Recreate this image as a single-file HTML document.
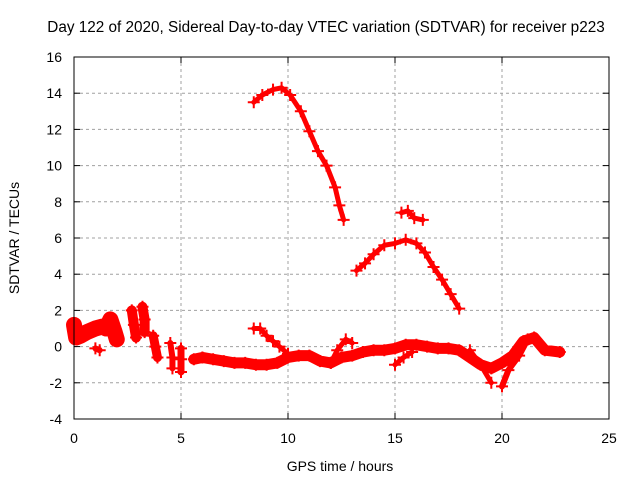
<!DOCTYPE html>
<html><head><meta charset="utf-8"><style>
body{margin:0;background:#fff;width:640px;height:480px;overflow:hidden}
svg text{font-family:"Liberation Sans",sans-serif;font-size:14px;fill:#000}
</style></head><body>
<svg id="chart" width="640" height="480" xmlns="http://www.w3.org/2000/svg">
<rect width="640" height="480" fill="#fff"/>
<text x="326" y="32" text-anchor="middle" style="font-size:15.3px">Day 122 of 2020, Sidereal Day-to-day VTEC variation (SDTVAR) for receiver p223</text>
<text x="340" y="471" text-anchor="middle">GPS time / hours</text>
<text transform="translate(19,238) rotate(-90)" text-anchor="middle">SDTVAR / TECUs</text>
<g id="grid"></g><g id="marks"></g><g id="axes"></g>
</svg>
<script>
const xTicks=[0,5,10,15,20,25];
const yTicks=[-4,-2,0,2,4,6,8,10,12,14,16];
const traceArc1=[[8.4,13.5],[8.8,13.9],[9.3,14.2],[9.7,14.3],[10.1,13.9],[10.6,13.0],[11.0,11.9],[11.4,10.8],[11.8,10.0],[12.2,8.8],[12.4,7.8],[12.6,7.0]];
const traceArc2=[[13.2,4.2],[13.6,4.6],[14.0,5.1],[14.5,5.6],[15.0,5.7],[15.5,5.9],[16.0,5.7],[16.4,5.2],[16.8,4.4],[17.2,3.7],[17.6,2.9],[18.0,2.1]];
const traceShort=[[15.3,7.4],[15.6,7.5],[15.9,7.1],[16.3,7.0]];
const traceMain=[[5.6,-0.7],[6.0,-0.6],[6.5,-0.7],[7.0,-0.8],[7.5,-0.9],[8.0,-0.9],[8.5,-1.0],[9.0,-1.0],[9.5,-0.9],[10.0,-0.6],[10.5,-0.5],[11.0,-0.5],[11.5,-0.8],[12.0,-0.9],[12.5,-0.6],[13.0,-0.5],[13.5,-0.3],[14.0,-0.2],[14.5,-0.2],[15.0,-0.1],[15.5,0.1],[16.0,0.1],[16.5,0.0],[17.0,-0.1],[17.5,-0.1],[18.0,-0.2],[18.5,-0.6],[19.0,-1.0],[19.5,-1.2],[20.0,-0.9],[20.5,-0.5],[21.0,0.3],[21.5,0.5],[22.0,-0.2],[22.7,-0.3]];
const traceHump=[[8.4,1.0],[8.7,1.0],[9.0,0.6],[9.3,0.3],[9.6,0.0],[10.0,-0.4]];
const traceB1=[[12.0,-0.9],[12.3,-0.2],[12.7,0.4],[13.0,0.2]];
const traceB2=[[15.0,-1.0],[15.4,-0.6],[15.8,-0.3]];
const traceB3=[[18.5,-0.2],[19.0,-1.0],[19.5,-2.0]];
const traceB4=[[20.0,-2.2],[20.3,-1.3],[20.8,-0.5],[21.2,0.4]];
const traceL1=[[0.0,1.2],[0.1,0.5],[0.3,0.6],[0.6,0.8],[1.0,1.0],[1.3,1.1]];
const traceL2=[[1.5,1.0],[1.7,1.5],[1.9,0.8],[2.0,0.4]];
const traceL3=[[1.0,-0.1],[1.2,-0.2]];
const traceL4=[[2.7,2.0],[2.8,1.2],[2.9,0.5]];
const traceL5=[[3.2,2.2],[3.3,1.5],[3.3,0.8]];
const traceL6=[[3.7,0.6],[3.8,0.0],[3.9,-0.6]];
const traceL7=[[4.5,0.2],[4.6,-0.6],[4.6,-1.2]];
const traceL8=[[5.0,-0.1],[5.0,-0.7],[5.0,-1.4]];
const traces=[[traceArc1,5],[traceArc2,5],[traceShort,5],[traceMain,11],[traceHump,5],[traceB1,5],[traceB2,5],[traceB3,5],[traceB4,6],[traceL1,16],[traceL2,16],[traceL3,6],[traceL4,10],[traceL5,10],[traceL6,9],[traceL7,6],[traceL8,7]];
const X0=74,X1=609,Y0=419,Y1=57,NS="http://www.w3.org/2000/svg";
const xs=v=>X0+(v-0)/(25-0)*(X1-X0);
const ys=v=>Y0-(v+4)/20*(Y0-Y1);
function mk(tag,attrs,parent){const e=document.createElementNS(NS,tag);for(const k in attrs)e.setAttribute(k,attrs[k]);parent.appendChild(e);return e;}
const grid=document.getElementById('grid'),axes=document.getElementById('axes'),marks=document.getElementById('marks');
xTicks.forEach(t=>{
  if(t>0&&t<25){const l=mk('line',{x1:xs(t),x2:xs(t),y1:Y1,y2:Y0,stroke:'#a0a0a0','stroke-dasharray':'3,3'},grid);
  
  }
  mk('line',{x1:xs(t),x2:xs(t),y1:Y0,y2:Y0-6,stroke:'#000'},axes);
  mk('line',{x1:xs(t),x2:xs(t),y1:Y1,y2:Y1+6,stroke:'#000'},axes);
  const tx=mk('text',{x:xs(t),y:Y0+24,'text-anchor':'middle'},axes);tx.textContent=t;
  
  
});
yTicks.forEach(t=>{
  if(t>-4&&t<16){const l=mk('line',{x1:X0,x2:X1,y1:ys(t),y2:ys(t),stroke:'#a0a0a0','stroke-dasharray':'3,3'},grid);
  
  }
  mk('line',{x1:X0,x2:X0+6,y1:ys(t),y2:ys(t),stroke:'#000'},axes);
  mk('line',{x1:X1,x2:X1-6,y1:ys(t),y2:ys(t),stroke:'#000'},axes);
  const tx=mk('text',{x:X0-12,y:ys(t)+5,'text-anchor':'end'},axes);tx.textContent=t;
  
  
});
const frame=mk('rect',{x:X0,y:Y1,width:X1-X0,height:Y0-Y1,fill:'none',stroke:'#000','stroke-width':1},axes);


traces.forEach(([pts,w])=>{
  const pl=mk('polyline',{points:pts.map(p=>xs(p[0])+','+ys(p[1])).join(' '),fill:'none',stroke:'#ff0000','stroke-width':w,'stroke-linecap':'round','stroke-linejoin':'round'},marks);
  
  
  pts.forEach(p=>{
    const cx=xs(p[0]),cy=ys(p[1]);
    const m=mk('path',{d:`M${cx-6},${cy}H${cx+6}M${cx},${cy-6}V${cy+6}`,stroke:'#ff0000','stroke-width':2},marks);
    
    
  });
});
</script>
</body></html>
